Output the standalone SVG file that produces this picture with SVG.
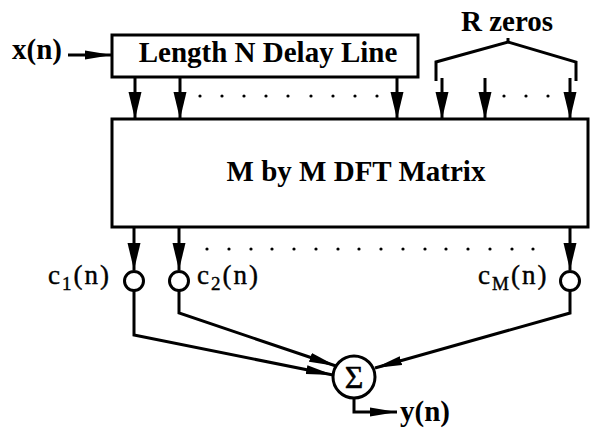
<svg xmlns="http://www.w3.org/2000/svg" width="590" height="428" viewBox="0 0 590 428">
<style>
.box{fill:#fff;stroke:#000;stroke-width:3}
.ln{fill:none;stroke:#000;stroke-width:3;stroke-linejoin:miter}
.arr{marker-end:url(#ah)}
.arrn{marker-end:url(#ahn)}
.circ{fill:#fff;stroke:#000;stroke-width:3}
.bold{font-family:"Liberation Serif","DejaVu Serif",serif;font-weight:700;font-size:29px;fill:#000}
.lab{font-family:"Liberation Serif","DejaVu Serif",serif;font-size:27px;fill:#000;stroke:#000;stroke-width:0.4;letter-spacing:2px}
.sub{font-size:19px}
.dot{fill:#000}
</style>
<defs>
<marker id="ah" markerUnits="userSpaceOnUse" markerWidth="28" markerHeight="14" viewBox="0 -7 28 14" refX="27" refY="0" orient="auto">
<path d="M0,-6.5 L27,0 L0,6.5 z" fill="#000"/>
</marker>
<marker id="ahn" markerUnits="userSpaceOnUse" markerWidth="28" markerHeight="12" viewBox="0 -6 28 12" refX="27" refY="0" orient="auto">
<path d="M0,-4.5 L27,0 L0,4.5 z" fill="#000"/>
</marker>
</defs>

<g id="input">
<text class="bold" x="12" y="59">x(n)</text>
</g>

<g id="delay-line">
<rect class="box" x="112" y="35" width="306" height="42"/>
<text class="bold" x="268" y="62" text-anchor="middle">Length N Delay Line</text>
</g>

<g id="r-zeros">
<text class="bold" x="507" y="31" text-anchor="middle">R zeros</text>
<path class="ln" d="M436,81 L436,62 L508,42 L576,62 L576,81"/>
<line class="ln" x1="508" y1="38" x2="508" y2="43"/>
</g>

<g id="dft">
<rect class="box" x="112" y="119" width="476" height="108"/>
<text class="bold" x="356" y="181" text-anchor="middle">M by M DFT Matrix</text>
</g>

<g id="c1">
<circle class="circ" cx="134" cy="281" r="9.5"/>
<text class="lab" x="48" y="284">c<tspan class="sub" dy="6">1</tspan><tspan dy="-6">(n)</tspan></text>
</g>
<g id="c2">
<circle class="circ" cx="179" cy="281" r="9.5"/>
<text class="lab" x="197" y="284">c<tspan class="sub" dy="6">2</tspan><tspan dy="-6">(n)</tspan></text>
</g>
<g id="cM">
<circle class="circ" cx="570" cy="281" r="9.5"/>
<text class="lab" x="478" y="284">c<tspan class="sub" dy="6">M</tspan><tspan dy="-6">(n)</tspan></text>
</g>

<g id="sum">
<circle class="circ" cx="354" cy="377" r="21" stroke-width="2.5"/>
<text x="354" y="388" text-anchor="middle" font-family="Liberation Serif, DejaVu Serif, serif" font-size="32" stroke="#000" stroke-width="0.5">Σ</text>
</g>

<g id="output">
<text class="bold" x="400" y="421">y(n)</text>
</g>

<g id="connectors">
<line class="ln arrn" x1="68" y1="55" x2="112" y2="55"/>
<line class="ln arr" x1="135" y1="77" x2="135" y2="119"/>
<line class="ln arr" x1="180" y1="77" x2="180" y2="119"/>
<line class="ln arr" x1="397" y1="77" x2="397" y2="119"/>
<line class="ln arr" x1="442" y1="78" x2="442" y2="119"/>
<line class="ln arr" x1="485" y1="78" x2="485" y2="119"/>
<line class="ln arr" x1="570" y1="78" x2="570" y2="119"/>
<line class="ln arr" x1="134" y1="227" x2="134" y2="270"/>
<line class="ln arr" x1="179" y1="227" x2="179" y2="270"/>
<line class="ln arr" x1="570" y1="227" x2="570" y2="270"/>
<path class="ln arrn" d="M134,291 L134,335 L333,375"/>
<path class="ln arrn" d="M179,291 L179,313 L336,366"/>
<path class="ln arrn" d="M570,291 L570,313 L375,368"/>
<path class="ln arrn" d="M354,398 L354,412 L397,412"/>
</g>

<g id="dots">
<circle class="dot" cx="200" cy="96" r="1.6"/>
<circle class="dot" cx="222" cy="96" r="1.6"/>
<circle class="dot" cx="244" cy="96" r="1.6"/>
<circle class="dot" cx="266" cy="96" r="1.6"/>
<circle class="dot" cx="288" cy="96" r="1.6"/>
<circle class="dot" cx="311" cy="96" r="1.6"/>
<circle class="dot" cx="333" cy="96" r="1.6"/>
<circle class="dot" cx="355" cy="96" r="1.6"/>
<circle class="dot" cx="377" cy="96" r="1.6"/>
<circle class="dot" cx="504" cy="96" r="1.6"/>
<circle class="dot" cx="526" cy="96" r="1.6"/>
<circle class="dot" cx="548" cy="96" r="1.6"/>
<circle class="dot" cx="207" cy="249" r="1.6"/>
<circle class="dot" cx="229" cy="249" r="1.6"/>
<circle class="dot" cx="251" cy="249" r="1.6"/>
<circle class="dot" cx="272" cy="249" r="1.6"/>
<circle class="dot" cx="294" cy="249" r="1.6"/>
<circle class="dot" cx="316" cy="249" r="1.6"/>
<circle class="dot" cx="338" cy="249" r="1.6"/>
<circle class="dot" cx="359" cy="249" r="1.6"/>
<circle class="dot" cx="381" cy="249" r="1.6"/>
<circle class="dot" cx="403" cy="249" r="1.6"/>
<circle class="dot" cx="425" cy="249" r="1.6"/>
<circle class="dot" cx="446" cy="249" r="1.6"/>
<circle class="dot" cx="468" cy="249" r="1.6"/>
<circle class="dot" cx="490" cy="249" r="1.6"/>
<circle class="dot" cx="512" cy="249" r="1.6"/>
<circle class="dot" cx="533" cy="249" r="1.6"/>
</g>
</svg>
